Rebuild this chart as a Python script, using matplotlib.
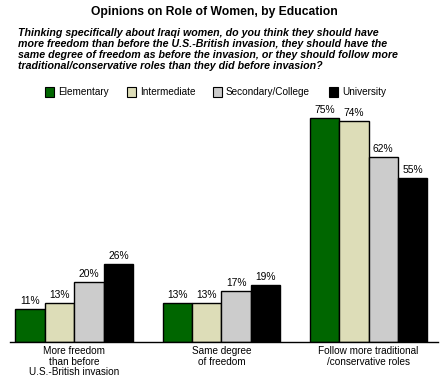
import matplotlib
matplotlib.use("Agg")
import matplotlib.pyplot as plt
import numpy as np
from matplotlib.patches import Rectangle

categories = ["More freedom\nthan before\nU.S.-British invasion",
              "Same degree\nof freedom",
              "Follow more traditional\n/conservative roles"]
series = ["Elementary", "Intermediate", "Secondary/College", "University"]
values = {
    "Elementary": [11, 13, 75],
    "Intermediate": [13, 13, 74],
    "Secondary/College": [20, 17, 62],
    "University": [26, 19, 55],
}
colors = ["#006600", "#DDDDB8", "#CCCCCC", "#000000"]

plt.rcParams['font.family'] = ['Liberation Sans', 'DejaVu Sans']

W, H = 440, 378
fig = plt.figure(figsize=(W/100, H/100), dpi=100)

# axes: left 10px, right 438px, baseline at 342px, top at 103px
ax = fig.add_axes([10/W, (H-342)/H, 428/W, 239/H])
x = np.arange(len(categories))
w = 0.2
for i, s in enumerate(series):
    pos = x + (i - 1.5) * w
    ax.bar(pos, values[s], width=w, color=colors[i], edgecolor="black", linewidth=1)
    for p, v in zip(pos, values[s]):
        ax.text(p, v + 1.0, f"{v}%", ha="center", va="bottom", fontsize=7.4)

ax.set_xlim(-0.437, 2.472)
ax.set_ylim(0, 80)
for sp in ["top", "right", "left"]:
    ax.spines[sp].set_visible(False)
ax.spines["bottom"].set_linewidth(1)
ax.set_yticks([])
ax.set_xticks(x)
ax.set_xticklabels(categories, fontsize=7.2, linespacing=1.05)
ax.tick_params(axis="x", length=0, pad=3)

fig.text(214/W, 1 - 12/H, "Opinions on Role of Women, by Education", ha="center", va="center",
         fontsize=8.7, fontweight="bold")
fig.text(18/W, 1 - 28/H,
         "Thinking specifically about Iraqi women, do you think they should have\n"
         "more freedom than before the U.S.-British invasion, they should have the\n"
         "same degree of freedom as before the invasion, or they should follow more\n"
         "traditional/conservative roles than they did before invasion?",
         ha="left", va="top", fontsize=7.7, fontweight="bold", style="italic", linespacing=1.13)

# legend
leg_x = [45, 127, 213, 329]
leg_y = 92
for i, s in enumerate(series):
    fig.add_artist(Rectangle((leg_x[i]/W, 1 - (leg_y + 4.5)/H), 9/W, 9/H,
                             transform=fig.transFigure, facecolor=colors[i],
                             edgecolor="black", linewidth=0.8))
    fig.text((leg_x[i] + 13)/W, 1 - leg_y/H, s, ha="left", va="center", fontsize=7.2)

fig.savefig("out.png", dpi=100)
